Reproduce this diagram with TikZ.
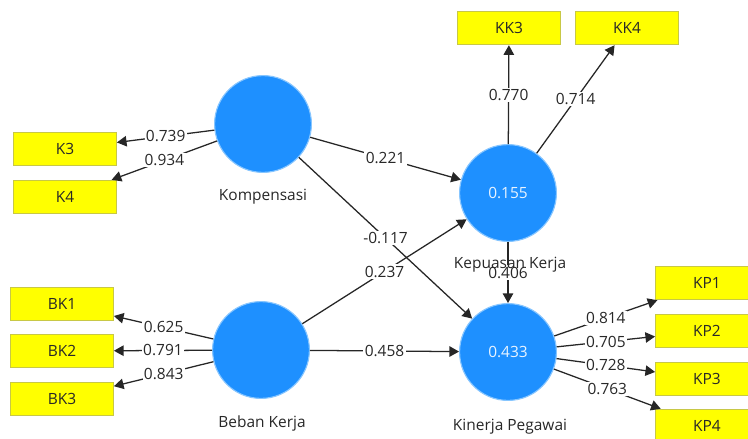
\documentclass[tikz,border=0pt]{standalone}
\usepackage{fontspec}
\setmainfont{Open Sans}
\usetikzlibrary{arrows.meta, positioning}

\definecolor{lvblue}{RGB}{30,144,255}
\definecolor{lvrim}{RGB}{135,198,255}
\definecolor{indyellow}{RGB}{255,255,0}
\definecolor{indrim}{RGB}{200,200,70}
\definecolor{txtgrey}{RGB}{40,40,40}

\tikzset{
  latent/.style={circle, fill=lvblue, draw=lvrim, line width=0.8pt, minimum size=2.42cm, inner sep=0pt, text=white!90!lvblue},
  indicator/.style={rectangle, fill=indyellow, draw=indrim, line width=0.6pt, minimum width=2.575cm, minimum height=0.84cm, inner sep=0pt, text=txtgrey},
  link/.style={line width=0.9pt, draw=black!85, -{Triangle[length=0.24cm,width=0.26cm]}},
  coef/.style={midway, fill=white, inner sep=1pt, text=txtgrey},
  lvname/.style={text=txtgrey}
}

\begin{document}
\begin{tikzpicture}[x=0.025cm, y=-0.025cm, font=\fontsize{11}{13}\selectfont]
    \useasboundingbox[fill=white] (0,0) rectangle (748,439);
    % Latent variables
    \node[latent] (komp) at (263,124) {};
    \node[latent] (beban) at (261,350) {};
    \node[latent] (puas) at (508,193) {0.155};
    \node[latent] (kinerja) at (508,352) {0.433};
    % Indicators Kompensasi
    \node[indicator] (k3) at (65,149) {K3};
    \node[indicator] (k4) at (65,197) {K4};
    % Indicators Beban Kerja
    \node[indicator] (bk1) at (62,304) {BK1};
    \node[indicator] (bk2) at (62,351) {BK2};
    \node[indicator] (bk3) at (62,399) {BK3};
    % Indicators Kepuasan Kerja
    \node[indicator] (kk3) at (509,28) {KK3};
    \node[indicator] (kk4) at (627,28) {KK4};
    % Indicators Kinerja Pegawai
    \node[indicator] (kp1) at (707,283) {KP1};
    \node[indicator] (kp2) at (707,331) {KP2};
    \node[indicator] (kp3) at (707,379) {KP3};
    \node[indicator] (kp4) at (707,426) {KP4};
    % Outer loadings
    \draw[link] (komp) -- (k3) node[coef] {0.739};
    \draw[link] (komp) -- (k4) node[coef] {0.934};
    \draw[link] (beban) -- (bk1) node[coef] {0.625};
    \draw[link] (beban) -- (bk2) node[coef] {0.791};
    \draw[link] (beban) -- (bk3) node[coef] {0.843};
    \draw[link] (puas) -- (kk3) node[coef] {0.770};
    \draw[link] (puas) -- (kk4) node[coef] {0.714};
    \draw[link] (kinerja) -- (kp1) node[coef] {0.814};
    \draw[link] (kinerja) -- (kp2) node[coef] {0.705};
    \draw[link] (kinerja) -- (kp3) node[coef] {0.728};
    \draw[link] (kinerja) -- (kp4) node[coef] {0.763};
    % Path coefficients
    \draw[link] (komp) -- (puas) node[coef] {0.221};
    \draw[link] (komp) -- (kinerja) node[coef] {-0.117};
    \draw[link] (beban) -- (puas) node[coef] {0.237};
    \draw[link] (beban) -- (kinerja) node[coef] {0.458};
    \draw[link] (puas) -- (kinerja) node[coef] {0.406};
    % Names
    \node[lvname] (kompName) at (263,197) {Kompensasi};
    \node[lvname] (bebanName) at (262,423) {Beban Kerja};
    \node[lvname] (puasName) at (510,265) {Kepuasan Kerja};
    \node[lvname] (kinerjaName) at (510,427) {Kinerja Pegawai};
\end{tikzpicture}
\end{document}
